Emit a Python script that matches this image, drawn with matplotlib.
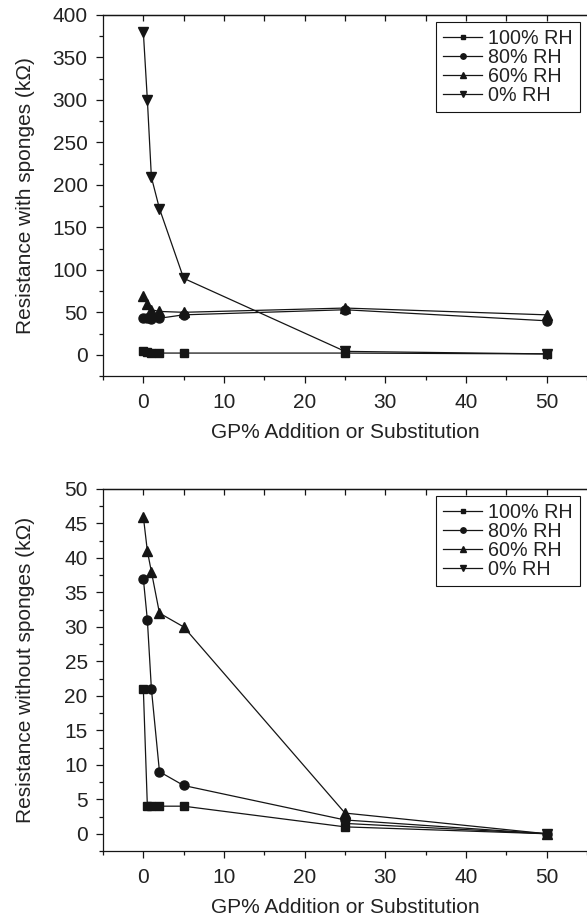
import matplotlib.pyplot as plt
from matplotlib.ticker import MultipleLocator

plt.rcParams['font.family'] = ['Liberation Sans', 'DejaVu Sans']
plt.rcParams['font.size'] = 15

# data
gp = [0, 0.5, 1, 2, 5, 25, 50]

with_rh100 = [4, 3, 2, 2, 2, 2, 1]
with_rh80 = [43, 43, 42, 43, 47, 53, 40]
with_rh60 = [69, 60, 53, 51, 50, 55, 47]
with_rh0 = [380, 300, 209, 172, 90, 4, 1]

without_rh100 = [21, 4, 4, 4, 4, 1, 0]
without_rh80 = [37, 31, 21, 9, 7, 2, 0]
without_rh60 = [46, 41, 38, 32, 30, 3, 0]
gp_rh0 = [25, 50]
without_rh0 = [1.5, 0]

labels = ['100% RH', '80% RH', '60% RH', '0% RH']
markers = ['s', 'o', '^', 'v']
msizes = [5.5, 6.5, 7.5, 7.5]
ink = '#151515'

fig = plt.figure(figsize=(5.87, 9.24), dpi=100)
ax1 = fig.add_axes([103/587, 1-376/924, 1-103/587, (376-15)/924])
ax2 = fig.add_axes([103/587, 1-851/924, 1-103/587, (851-489)/924])


def style(ax, ymin, ymax, major, minor, ylabel):
    ax.set_xlim(-5, 55)
    ax.set_ylim(ymin, ymax)
    ax.xaxis.set_major_locator(MultipleLocator(10))
    ax.xaxis.set_minor_locator(MultipleLocator(5))
    ax.yaxis.set_major_locator(MultipleLocator(major))
    ax.yaxis.set_minor_locator(MultipleLocator(minor))
    ax.spines['right'].set_visible(False)
    for s in ['left', 'bottom', 'top']:
        ax.spines[s].set_linewidth(0.9)
        ax.spines[s].set_color(ink)
    ax.tick_params(which='major', direction='out', length=5, width=0.9, colors=ink, labelsize=15, labelcolor='#222222')
    ax.tick_params(which='minor', direction='out', length=3, width=0.9, colors=ink)
    ax.tick_params(axis='y', pad=6)
    ax.tick_params(axis='x', pad=7)
    top = ax.secondary_xaxis('top')
    top.set_xticks(range(0, 55, 5))
    top.tick_params(direction='in', length=4, width=0.9, labeltop=False, colors=ink)
    top.spines['top'].set_linewidth(0.9)
    ax.set_xlabel('GP% Addition or Substitution', color='#222222', labelpad=8.5)
    ax.set_ylabel(ylabel, color='#222222')
    ax.yaxis.set_label_coords(-0.1405, 0.5)


series1 = [with_rh100, with_rh80, with_rh60, with_rh0]
for vals, lab, m, ms in zip(series1, labels, markers, msizes):
    ax1.plot(gp, vals, color=ink, lw=0.9, marker=m, ms=ms, label=lab, clip_on=False)

series2 = [(gp, without_rh100), (gp, without_rh80), (gp, without_rh60), (gp_rh0, without_rh0)]
for (xs, vals), lab, m, ms in zip(series2, labels, markers, msizes):
    ax2.plot(xs, vals, color=ink, lw=0.9, marker=m, ms=ms, label=lab, clip_on=False)

style(ax1, -25, 400, 50, 25, 'Resistance with sponges (k\u03a9)')
style(ax2, -2.5, 50, 5, 2.5, 'Resistance without sponges (k\u03a9)')

for ax in (ax1, ax2):
    leg = ax.legend(loc='upper right', bbox_to_anchor=(0.985, 0.98), frameon=True, fancybox=False,
                    edgecolor=ink, framealpha=1, markerscale=0.6, handlelength=2.0, fontsize=14.2,
                    handletextpad=0.3, labelspacing=0.0, borderpad=0.35, borderaxespad=0.0)
    leg.get_frame().set_linewidth(0.8)
    for t in leg.get_texts():
        t.set_color('#222222')

fig.savefig('out.png', dpi=100)
